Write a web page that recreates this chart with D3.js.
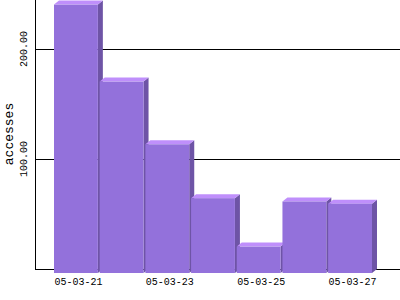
<!DOCTYPE html>
<html><head><meta charset="utf-8">
<script src="https://cdn.jsdelivr.net/npm/d3@7"></script>
<style>html,body{margin:0;padding:0;background:#fff;}svg{display:block;}</style>
</head><body>
<svg id="c" width="400" height="300"></svg>
<script>
const dates = ["05-03-21","05-03-22","05-03-23","05-03-24","05-03-25","05-03-26","05-03-27"];
const accesses = [244, 174, 117, 68, 24, 65, 63];
const yTicks = [100, 200];
const xLabelDates = ["05-03-21","05-03-23","05-03-25","05-03-27"];

const svg = d3.select("#c");
const dx = 5, dy = 4;
const axisX = 35, axisY = 269;
const x = d3.scaleBand().domain(dates).range([54, 372]).paddingInner(0.04).paddingOuter(0);
const y = d3.scaleLinear().domain([0, 100]).range([axisY + dy, axisY + dy - 110]);

const font = "'Liberation Mono', 'DejaVu Sans Mono', monospace";

// gridlines (back plane)
svg.selectAll("line.grid").data(yTicks).enter().append("line")
  .attr("x1", axisX).attr("x2", 400)
  .attr("y1", d => y(d) - dy + 0.5).attr("y2", d => y(d) - dy + 0.5)
  .attr("stroke", "#000").attr("stroke-width", 1);

// axes
svg.append("line").attr("x1", axisX + 0.5).attr("x2", axisX + 0.5).attr("y1", 0).attr("y2", axisY + 0.5)
  .attr("stroke", "#000");
svg.append("line").attr("x1", axisX).attr("x2", 400).attr("y1", axisY + 0.5).attr("y2", axisY + 0.5)
  .attr("stroke", "#000");

// bars
const bw = x.bandwidth();
const g = svg.selectAll("g.bar").data(dates.map((d, i) => ({d, v: accesses[i]}))).enter().append("g");
g.append("polygon").attr("fill", "#6e54a6").attr("points", p => {
  const x0 = x(p.d), x1 = x0 + bw, yt = y(p.v), yb = y(0);
  return [[x1, yt], [x1 + dx, yt - dy], [x1 + dx, yb - dy], [x1, yb]].join(" ");
});
g.append("polygon").attr("fill", "#bf8ffb").attr("points", p => {
  const x0 = x(p.d), x1 = x0 + bw, yt = y(p.v);
  return [[x0, yt], [x0 + dx, yt - dy], [x1 + dx, yt - dy], [x1, yt]].join(" ");
});
g.append("rect").attr("fill", "#9371db")
  .attr("x", p => x(p.d)).attr("width", bw)
  .attr("y", p => y(p.v)).attr("height", p => y(0) - y(p.v));

// x labels
svg.selectAll("text.xl").data(xLabelDates).enter().append("text")
  .attr("x", d => x(d) + bw / 2 + 2.5).attr("y", 285)
  .attr("text-anchor", "middle").attr("font-family", font).attr("font-size", 10)
  .attr("fill", "#000").text(d => d);

// y tick labels (rotated)
svg.selectAll("text.yl").data(yTicks).enter().append("text")
  .attr("transform", d => `translate(27,${y(d) - dy}) rotate(-90)`)
  .attr("text-anchor", "middle").attr("font-family", font).attr("font-size", 10)
  .attr("fill", "#000").text(d => d3.format(".2f")(d));

// y axis title
svg.append("text").attr("transform", "translate(13,134) rotate(-90)")
  .attr("text-anchor", "middle").attr("font-family", font).attr("font-size", 13)
  .attr("fill", "#000").text("accesses");
</script>
</body></html>
